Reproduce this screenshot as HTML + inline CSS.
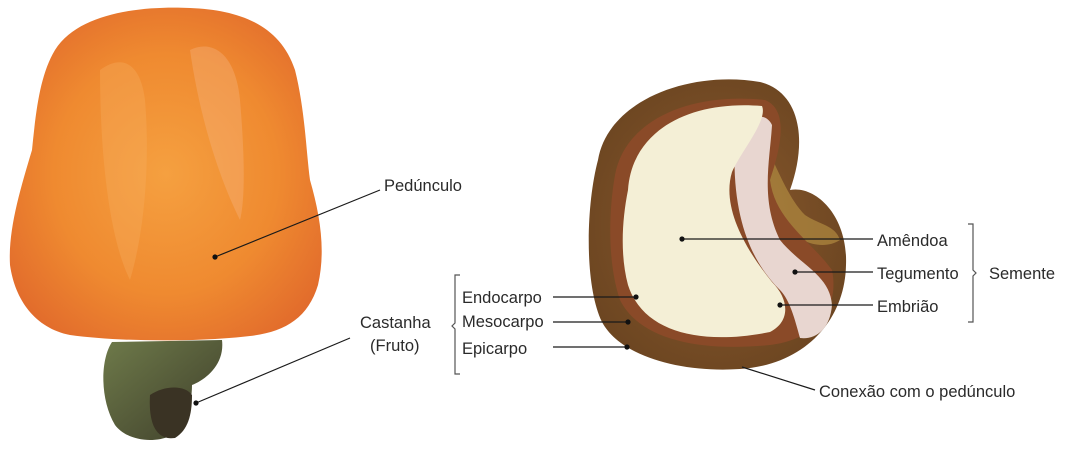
<!DOCTYPE html>
<html><head><meta charset="utf-8"><style>
html,body{margin:0;padding:0;background:#fff;}
svg{display:block;}
text{font-family:"Liberation Sans",Arial,sans-serif;font-size:16.5px;fill:#2a2a2a;}
</style></head><body>
<svg width="1068" height="451" viewBox="0 0 1068 451">
<defs>
<radialGradient id="ap" cx="0.5" cy="0.5" r="0.6">
<stop offset="0" stop-color="#f5a040"/><stop offset="0.6" stop-color="#ef8a30"/><stop offset="1" stop-color="#e26c2c"/>
</radialGradient>
<linearGradient id="st" x1="0" y1="0" x2="1" y2="1">
<stop offset="0" stop-color="#6e7a4a"/><stop offset="1" stop-color="#3e3e2a"/>
</linearGradient>
<radialGradient id="nt" cx="0.5" cy="0.5" r="0.6">
<stop offset="0" stop-color="#8a5a2e"/><stop offset="1" stop-color="#6a4420"/>
</radialGradient>
</defs>
<!-- cashew stem / nut -->
<path d="M112,342 C100,360 100,400 115,425 C130,445 170,445 185,425 C190,410 192,395 192,385 C205,380 225,365 222,340 Z" fill="url(#st)"/>
<path d="M150,395 C165,385 185,385 192,395 C192,415 188,430 175,438 C160,440 148,430 150,395 Z" fill="#3a3324"/>
<!-- apple -->
<path d="M55,50 C80,10 150,6 190,8 C240,10 280,25 295,70 C305,110 306,150 310,180 C320,215 326,250 318,285 C308,318 285,332 250,336 C200,342 120,342 70,335 C35,328 15,300 10,265 C8,230 20,190 32,150 C36,110 40,75 55,50 Z" fill="url(#ap)"/>
<path d="M100,70 C120,55 140,60 145,100 C150,160 145,230 130,280 C110,240 100,160 100,70 Z" fill="#f6b060" opacity="0.35"/>
<path d="M190,50 C210,40 235,50 240,100 C245,160 245,200 240,220 C220,180 200,120 190,50 Z" fill="#f7b888" opacity="0.35"/>
<!-- nut -->
<path d="M598,160 C608,100 690,70 760,82 C800,92 808,140 790,190 C815,185 848,215 846,265 C845,320 805,365 740,369 C680,373 620,356 602,322 C584,285 586,205 598,160 Z" fill="url(#nt)"/>
<path d="M768,150 C780,175 790,200 805,215 C820,225 835,225 840,240 C825,250 800,245 785,225 C770,205 765,180 768,150 Z" fill="#b08a40" opacity="0.7"/>
<path d="M615,175 C625,120 690,92 765,100 C790,110 780,150 770,180 C775,220 810,240 832,270 C840,310 815,340 770,345 C700,352 640,340 620,300 C608,265 608,215 615,175 Z" fill="#8a4a28"/>
<path d="M735,140 C745,115 765,110 772,125 C770,160 760,200 780,240 C800,265 830,275 832,305 C830,330 815,340 800,338 C795,320 790,300 780,290 C760,270 730,230 735,140 Z" fill="#e8d6d0"/>
<path d="M628,190 C632,130 690,100 762,106 C768,120 742,150 732,172 C722,205 742,245 772,282 C790,300 790,322 770,332 C700,346 643,332 628,285 C620,255 622,220 628,190 Z" fill="#f4efd6"/>
<!-- lines -->
<g stroke="#1a1a1a" stroke-width="1.2" fill="none">
<line x1="215" y1="257" x2="380" y2="190"/>
<line x1="196" y1="403" x2="350" y2="338"/>
<line x1="553" y1="297" x2="636" y2="297"/>
<line x1="553" y1="322" x2="628" y2="322"/>
<line x1="553" y1="347" x2="627" y2="347"/>
<line x1="682" y1="239" x2="873" y2="239"/>
<line x1="795" y1="272" x2="873" y2="272"/>
<line x1="780" y1="305" x2="873" y2="305"/>
<line x1="742" y1="367" x2="815" y2="390"/>
<path d="M460,275 h-5 v48 l-3,3 l3,3 v45 h5" stroke="#555"/>
<path d="M968,224 h5 v46 l3,3 l-3,3 v46 h-5" stroke="#555"/>
</g>
<g fill="#111">
<circle cx="215" cy="257" r="2.6"/><circle cx="196" cy="403" r="2.6"/>
<circle cx="636" cy="297" r="2.6"/><circle cx="628" cy="322" r="2.6"/><circle cx="627" cy="347" r="2.6"/>
<circle cx="682" cy="239" r="2.6"/><circle cx="795" cy="272" r="2.6"/><circle cx="780" cy="305" r="2.6"/>
</g>
<text x="384" y="191">Pedúnculo</text>
<text x="360" y="328">Castanha</text>
<text x="370" y="351">(Fruto)</text>
<text x="462" y="303">Endocarpo</text>
<text x="462" y="327">Mesocarpo</text>
<text x="462" y="354">Epicarpo</text>
<text x="877" y="246">Amêndoa</text>
<text x="877" y="279">Tegumento</text>
<text x="877" y="312">Embrião</text>
<text x="989" y="279">Semente</text>
<text x="819" y="397">Conexão com o pedúnculo</text>
</svg>
</body></html>
